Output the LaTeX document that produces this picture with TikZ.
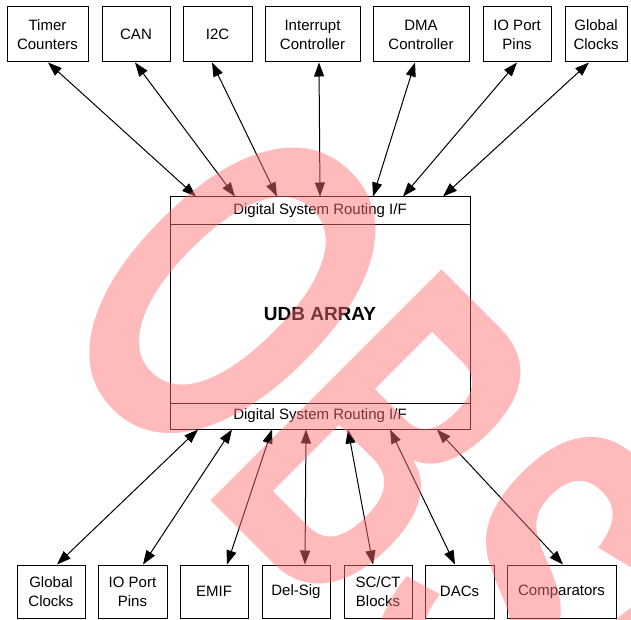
\documentclass[tikz,border=0pt]{standalone}
\usepackage{fontspec}
\setmainfont{Liberation Sans}
\usetikzlibrary{arrows.meta}
\definecolor{wm}{RGB}{255,110,115}
\begin{document}
\begin{tikzpicture}[x=1pt,y=-1pt,
  box/.style={draw, line width=1pt, inner sep=0pt, align=center, font=\fontsize{15}{19}\selectfont},
  tbox/.style={box, minimum height=55pt},
  bbox/.style={box, minimum height=53pt},
  link/.style={line width=1pt, {Triangle[length=14pt,width=10pt]}-{Triangle[length=14pt,width=10pt]}},
  wmtext/.style={anchor=base west, inner sep=0pt, transform shape, text=wm, text opacity=0.48,
      font=\fontsize{475pt}{475pt}\selectfont\bfseries}]
\useasboundingbox (0,0) rectangle (631,620);
% top row
\node[tbox, minimum width=81pt]  (timer) at (47.5,34.5) {Timer\\Counters};
\node[tbox, minimum width=68pt]  (can)   at (136,34.5)  {CAN};
\node[tbox, minimum width=69pt]  (itc)   at (217.5,34.5) {I2C};
\node[tbox, minimum width=95pt]  (intr)  at (312.5,34.5) {Interrupt\\Controller};
\node[tbox, minimum width=96pt]  (dma)   at (421,34.5)  {DMA\\Controller};
\node[tbox, minimum width=68pt]  (iot)   at (517,34.5)  {IO Port\\Pins};
\node[tbox, minimum width=62pt]  (gct)   at (596,34.5)  {Global\\Clocks};
% central block
\node[box, minimum width=300pt, minimum height=28pt] (dtop) at (320,211) {Digital System Routing I/F};
\node[box, minimum width=300pt, minimum height=178pt, font=\fontsize{19}{22}\selectfont\bfseries] (udb) at (320,314) {UDB ARRAY};
\node[box, minimum width=300pt, minimum height=26pt] (dbot) at (320,416) {Digital System Routing I/F};
% bottom row
\node[bbox, minimum width=68pt]  (gcb)   at (51,591.5)   {Global\\Clocks};
\node[bbox, minimum width=69pt]  (iob)   at (132.5,591.5) {IO Port\\Pins};
\node[bbox, minimum width=68pt]  (emif)  at (214,591.5)  {EMIF};
\node[bbox, minimum width=68pt]  (dsig)  at (296,591.5)  {Del-Sig};
\node[bbox, minimum width=68pt]  (scct)  at (378,591.5)  {SC/CT\\Blocks};
\node[bbox, minimum width=69pt]  (dacs)  at (459.5,591.5) {DACs};
\node[bbox, minimum width=109pt] (comp)  at (561.5,591.5) {Comparators};
% connectors top
\draw[link] ([xshift=0.5pt]timer.south) -- ([xshift=-124pt]dtop.north);
\draw[link] ([xshift=-1pt]can.south)    -- ([xshift=-85pt]dtop.north);
\draw[link] ([xshift=-5.5pt]itc.south)  -- ([xshift=-43pt]dtop.north);
\draw[link] ([xshift=6.5pt]intr.south)  -- ([xshift=0pt]dtop.north);
\draw[link] ([xshift=-6pt]dma.south)    -- ([xshift=53pt]dtop.north);
\draw[link] ([xshift=0pt]iot.south)     -- ([xshift=83pt]dtop.north);
\draw[link] ([xshift=-7pt]gct.south)    -- ([xshift=123pt]dtop.north);
% connectors bottom
\draw[link] ([xshift=-122pt]dbot.south) -- ([xshift=6pt]gcb.north);
\draw[link] ([xshift=-88pt]dbot.south)  -- ([xshift=10.5pt]iob.north);
\draw[link] ([xshift=-48pt]dbot.south)  -- ([xshift=13pt]emif.north);
\draw[link] ([xshift=-14pt]dbot.south)  -- ([xshift=9pt]dsig.north);
\draw[link] ([xshift=28pt]dbot.south)   -- ([xshift=-5pt]scct.north);
\draw[link] ([xshift=70pt]dbot.south)   -- ([xshift=-4.5pt]dacs.north);
\draw[link] ([xshift=117pt]dbot.south)  -- ([xshift=1.5pt]comp.north);
% watermark
\begin{scope}
\clip (0,0) rectangle (631,620);
\begin{scope}[shift={(210,500)}, rotate=-45]
\node[wmtext] (wmO) at (-244pt,0pt) {\scalebox{0.61}[1]{O}};
\node[wmtext] (wmB) at (-15.8pt,0pt) {\scalebox{0.55}[1]{B}};
\node[wmtext] (wmS) at (186pt,0pt) {\scalebox{0.55}[1]{SOLETE}};
\end{scope}
\end{scope}
\end{tikzpicture}
\end{document}
